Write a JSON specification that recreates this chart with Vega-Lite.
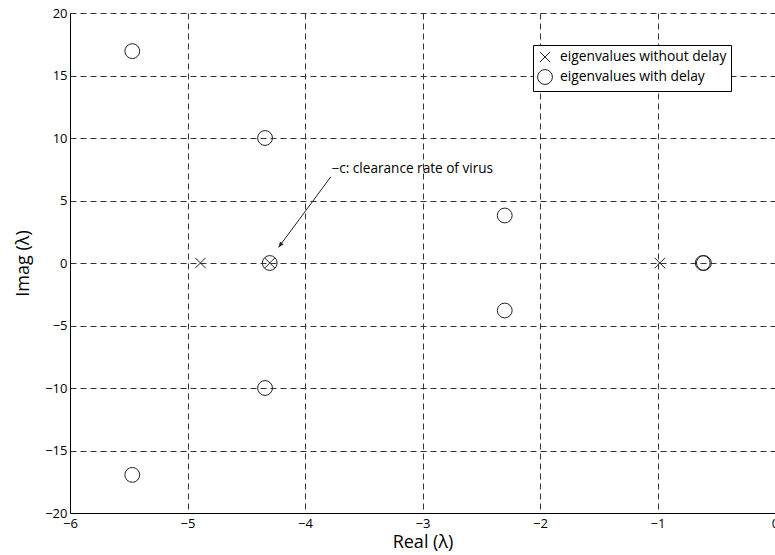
{
  "$schema": "https://vega.github.io/schema/vega-lite/v6.json",
  "width": 705,
  "height": 500,
  "autosize": {"type": "none"},
  "padding": {"left": 70, "top": 13, "right": 0, "bottom": 42},
  "background": "white",
  "config": {
    "font": "Open Sans",
    "view": {"stroke": null},
    "axis": {
      "grid": true,
      "gridDash": [6, 4],
      "gridColor": "#333333",
      "gridOpacity": 1,
      "gridWidth": 1,
      "domainColor": "black",
      "domainWidth": 1,
      "ticks": false,
      "labelFontSize": 13,
      "labelColor": "black",
      "labelFlush": false,
      "labelOverlap": false,
      "titleFontSize": 18,
      "titleFontWeight": "normal",
      "titleColor": "black"
    }
  },
  "encoding": {
    "x": {
      "field": "re",
      "type": "quantitative",
      "scale": {"domain": [-6, 0], "nice": false, "zero": false},
      "axis": {"values": [-6, -5, -4, -3, -2, -1, 0], "title": "Real (λ)", "labelPadding": 4, "titlePadding": 3}
    },
    "y": {
      "field": "im",
      "type": "quantitative",
      "scale": {"domain": [-20, 20], "nice": false, "zero": false},
      "axis": {"values": [-20, -15, -10, -5, 0, 5, 10, 15, 20], "title": "Imag (λ)", "labelPadding": 3, "titlePadding": 12}
    }
  },
  "layer": [
    {
      "data": {
        "values": [
          {"re": -4.89, "im": 0, "type": "eigenvalues without delay"},
          {"re": -0.98, "im": 0, "type": "eigenvalues without delay"},
          {"re": -4.3, "im": 0, "type": "eigenvalues without delay"},
          {"re": -5.47, "im": 16.95, "type": "eigenvalues with delay"},
          {"re": -5.47, "im": -16.95, "type": "eigenvalues with delay"},
          {"re": -4.34, "im": 10.0, "type": "eigenvalues with delay"},
          {"re": -4.34, "im": -10.0, "type": "eigenvalues with delay"},
          {"re": -4.3, "im": 0, "type": "eigenvalues with delay"},
          {"re": -2.3, "im": 3.8, "type": "eigenvalues with delay"},
          {"re": -2.3, "im": -3.8, "type": "eigenvalues with delay"},
          {"re": -0.615, "im": 0, "type": "eigenvalues with delay"},
          {"re": -0.605, "im": 0, "type": "eigenvalues with delay"}
        ]
      },
      "mark": {"type": "point", "filled": false, "color": "#222222", "strokeWidth": 1, "size": 220, "opacity": 1},
      "encoding": {
        "shape": {
          "field": "type",
          "type": "nominal",
          "scale": {
            "domain": ["eigenvalues without delay", "eigenvalues with delay"],
            "range": ["M-0.7,-0.7L0.7,0.7M-0.7,0.7L0.7,-0.7", "circle"]
          },
          "legend": {
            "title": null,
            "orient": "none",
            "legendX": 463,
            "legendY": 32,
            "strokeColor": "black",
            "fillColor": "white",
            "padding": 4,
            "labelFontSize": 13.8,
            "labelColor": "black",
            "labelOffset": 7,
            "rowPadding": 2,
            "symbolSize": 220,
            "symbolStrokeColor": "#222222",
            "symbolStrokeWidth": 1,
            "symbolFillColor": "transparent",
            "labelLimit": 400,
            "labelExpr": "datum.label + '\u00a0\u00a0\u00a0\u00a0'"
          }
        }
      }
    },
    {
      "data": {"values": [{"re": -3.78, "im": 6.9}, {"re": -4.225, "im": 1.25}]},
      "mark": {"type": "line", "color": "#222222", "strokeWidth": 1},
      "encoding": {}
    },
    {
      "data": {"values": [{"re": -4.225, "im": 1.25}]},
      "mark": {"type": "point", "shape": "M-0.45,1.1L0,0L0.45,1.1Z", "filled": true, "color": "#222222", "opacity": 1, "angle": 216, "size": 100},
      "encoding": {}
    },
    {
      "data": {"values": [{"re": -3.775, "im": 7.22, "label": "−c: clearance rate of virus"}]},
      "mark": {"type": "text", "align": "left", "baseline": "alphabetic", "fontSize": 13.6, "color": "black"},
      "encoding": {"text": {"field": "label", "type": "nominal"}}
    }
  ]
}
